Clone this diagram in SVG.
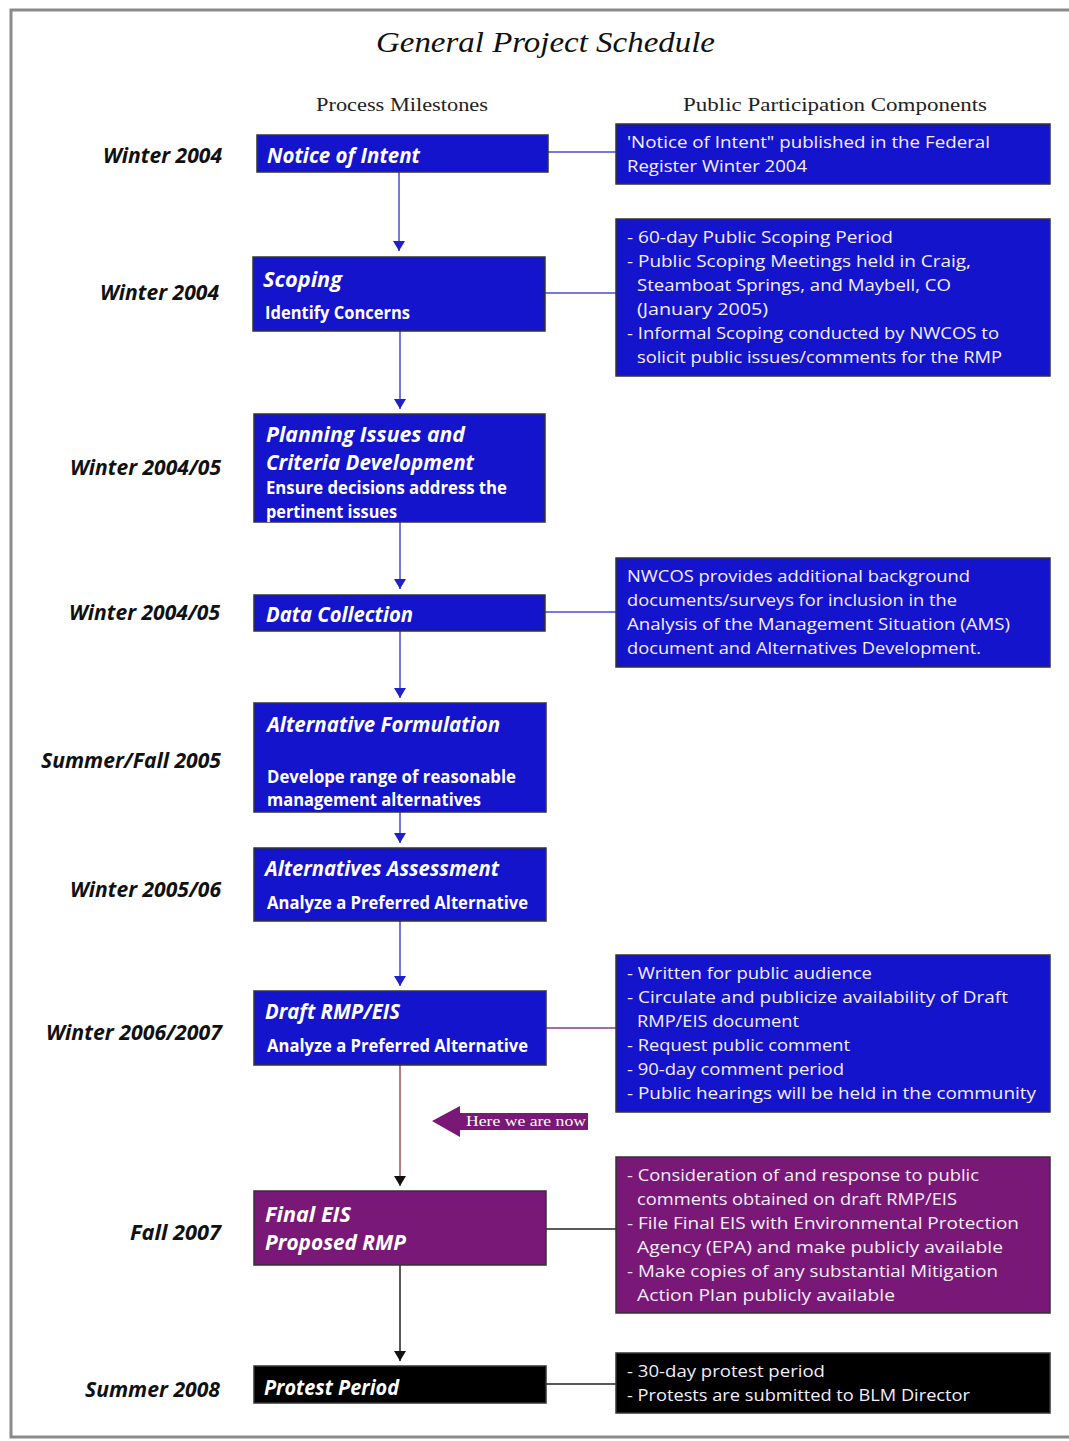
<svg xmlns="http://www.w3.org/2000/svg" width="1069" height="1441" viewBox="0 0 1069 1441">
<style>
.title{font-family:"Liberation Serif",serif;font-style:italic;font-size:30px;fill:#111}
.hdr{font-family:"Liberation Serif",serif;font-size:18px;fill:#222}
.date{font-family:"Open Sans","DejaVu Sans",sans-serif;font-style:italic;font-weight:bold;font-size:21px;fill:#111}
.bt{font-family:"Open Sans","DejaVu Sans",sans-serif;font-style:italic;font-weight:bold;font-size:22px;fill:#fff}
.bs{font-family:"Open Sans","DejaVu Sans",sans-serif;font-weight:bold;font-size:17px;fill:#fff}
.rt{font-family:"Open Sans","DejaVu Sans",sans-serif;font-size:17px;fill:#f4eefc}
.blue{fill:#1414cc;stroke:#333;stroke-width:1.5}
.purple{fill:#7a1878;stroke:#333;stroke-width:1.5}
.black{fill:#000;stroke:#333;stroke-width:1.5}
.cb{stroke:#4a4ad0;stroke-width:1.5;fill:none}
.cp{stroke:#8a3a8a;stroke-width:1.5;fill:none}
.ck{stroke:#222;stroke-width:1.5;fill:none}
.cr{stroke:#a05050;stroke-width:1.5;fill:none}
</style>
<defs>
<marker id="ab" viewBox="0 0 10 12" refX="10" refY="6" markerWidth="10" markerHeight="12" markerUnits="userSpaceOnUse" orient="auto">
<path d="M0,0 L10,6 L0,12 Z" fill="#2020c8"/>
</marker>
<marker id="ak" viewBox="0 0 10 12" refX="10" refY="6" markerWidth="10" markerHeight="12" markerUnits="userSpaceOnUse" orient="auto">
<path d="M0,0 L10,6 L0,12 Z" fill="#111"/>
</marker>
</defs>
<rect width="1069" height="1441" fill="#fff"/>
<path d="M1069,10 L11,10 L11,1437 L1069,1437" fill="none" stroke="#8a8a8a" stroke-width="3"/>
<text class="title" x="376" y="52" textLength="339" lengthAdjust="spacingAndGlyphs">General Project Schedule</text>
<text class="hdr" x="316" y="111" textLength="172" lengthAdjust="spacingAndGlyphs">Process Milestones</text>
<text class="hdr" x="683" y="111" textLength="304" lengthAdjust="spacingAndGlyphs">Public Participation Components</text>

<g id="dates">
<text class="date" x="103" y="163" textLength="119" lengthAdjust="spacingAndGlyphs">Winter 2004</text>
<text class="date" x="100" y="300" textLength="119" lengthAdjust="spacingAndGlyphs">Winter 2004</text>
<text class="date" x="70" y="475" textLength="151" lengthAdjust="spacingAndGlyphs">Winter 2004/05</text>
<text class="date" x="69" y="620" textLength="151" lengthAdjust="spacingAndGlyphs">Winter 2004/05</text>
<text class="date" x="41" y="768" textLength="180" lengthAdjust="spacingAndGlyphs">Summer/Fall 2005</text>
<text class="date" x="70" y="897" textLength="151" lengthAdjust="spacingAndGlyphs">Winter 2005/06</text>
<text class="date" x="46" y="1040" textLength="176" lengthAdjust="spacingAndGlyphs">Winter 2006/2007</text>
<text class="date" x="130" y="1240" textLength="91" lengthAdjust="spacingAndGlyphs">Fall 2007</text>
<text class="date" x="85" y="1397" textLength="135" lengthAdjust="spacingAndGlyphs">Summer 2008</text>
</g>

<g id="connectors">
<line class="cb" x1="399" y1="172" x2="399" y2="251" marker-end="url(#ab)"/>
<line class="cb" x1="400" y1="331" x2="400" y2="409" marker-end="url(#ab)"/>
<line class="cb" x1="400" y1="522" x2="400" y2="589" marker-end="url(#ab)"/>
<line class="cb" x1="400" y1="631" x2="400" y2="698" marker-end="url(#ab)"/>
<line class="cb" x1="400" y1="812" x2="400" y2="843" marker-end="url(#ab)"/>
<line class="cb" x1="400" y1="921" x2="400" y2="986" marker-end="url(#ab)"/>
<line class="cr" x1="400" y1="1065" x2="400" y2="1186" marker-end="url(#ak)"/>
<line class="ck" x1="400" y1="1265" x2="400" y2="1361" marker-end="url(#ak)"/>
<line class="cb" x1="548" y1="152" x2="616" y2="152"/>
<line class="cb" x1="545" y1="293" x2="616" y2="293"/>
<line class="cb" x1="545" y1="612" x2="616" y2="612"/>
<line class="cp" x1="546" y1="1028" x2="616" y2="1028"/>
<line class="ck" x1="546" y1="1229" x2="616" y2="1229"/>
<line class="ck" x1="546" y1="1384" x2="616" y2="1384"/>
</g>

<g id="n-notice">
<rect class="blue" x="257" y="135" width="291" height="37"/>
<text class="bt" x="267" y="163" textLength="153" lengthAdjust="spacingAndGlyphs">Notice of Intent</text>
</g>
<g id="n-scoping">
<rect class="blue" x="253" y="257" width="292" height="74"/>
<text class="bt" x="263" y="287" textLength="79" lengthAdjust="spacingAndGlyphs">Scoping</text>
<text class="bs" x="265" y="319" textLength="145" lengthAdjust="spacingAndGlyphs">Identify Concerns</text>
</g>
<g id="n-planning">
<rect class="blue" x="254" y="414" width="291" height="108"/>
<text class="bt" x="266" y="442" textLength="199" lengthAdjust="spacingAndGlyphs">Planning Issues and</text>
<text class="bt" x="266" y="470" textLength="208" lengthAdjust="spacingAndGlyphs">Criteria Development</text>
<text class="bs" x="266" y="494" textLength="241" lengthAdjust="spacingAndGlyphs">Ensure decisions address the</text>
<text class="bs" x="266" y="518" textLength="131" lengthAdjust="spacingAndGlyphs">pertinent issues</text>
</g>
<g id="n-data">
<rect class="blue" x="254" y="595" width="291" height="36"/>
<text class="bt" x="266" y="622" textLength="147" lengthAdjust="spacingAndGlyphs">Data Collection</text>
</g>
<g id="n-altform">
<rect class="blue" x="254" y="703" width="292" height="109"/>
<text class="bt" x="267" y="732" textLength="233" lengthAdjust="spacingAndGlyphs">Alternative Formulation</text>
<text class="bs" x="267" y="783" textLength="249" lengthAdjust="spacingAndGlyphs">Develope range of reasonable</text>
<text class="bs" x="267" y="806" textLength="214" lengthAdjust="spacingAndGlyphs">management alternatives</text>
</g>
<g id="n-altassess">
<rect class="blue" x="254" y="848" width="292" height="73"/>
<text class="bt" x="265" y="876" textLength="234" lengthAdjust="spacingAndGlyphs">Alternatives Assessment</text>
<text class="bs" x="267" y="909" textLength="261" lengthAdjust="spacingAndGlyphs">Analyze a Preferred Alternative</text>
</g>
<g id="n-draft">
<rect class="blue" x="254" y="991" width="292" height="74"/>
<text class="bt" x="265" y="1019" textLength="135" lengthAdjust="spacingAndGlyphs">Draft RMP/EIS</text>
<text class="bs" x="267" y="1052" textLength="261" lengthAdjust="spacingAndGlyphs">Analyze a Preferred Alternative</text>
</g>
<g id="n-final">
<rect class="purple" x="254" y="1191" width="292" height="74"/>
<text class="bt" x="265" y="1222" textLength="86" lengthAdjust="spacingAndGlyphs">Final EIS</text>
<text class="bt" x="265" y="1250" textLength="141" lengthAdjust="spacingAndGlyphs">Proposed RMP</text>
</g>
<g id="n-protest">
<rect class="black" x="254" y="1366" width="292" height="37"/>
<text class="bt" x="264" y="1395" textLength="135" lengthAdjust="spacingAndGlyphs">Protest Period</text>
</g>

<g id="r-notice">
<rect class="blue" x="616" y="124" width="434" height="60"/>
<text class="rt" x="627" y="148" textLength="363" lengthAdjust="spacingAndGlyphs">'Notice of Intent" published in the Federal</text>
<text class="rt" x="627" y="172" textLength="180" lengthAdjust="spacingAndGlyphs">Register Winter 2004</text>
</g>
<g id="r-scoping">
<rect class="blue" x="616" y="219" width="434" height="157"/>
<text class="rt" x="627" y="243" textLength="266" lengthAdjust="spacingAndGlyphs">- 60-day Public Scoping Period</text>
<text class="rt" x="627" y="267" textLength="344" lengthAdjust="spacingAndGlyphs">- Public Scoping Meetings held in Craig,</text>
<text class="rt" x="637" y="291" textLength="314" lengthAdjust="spacingAndGlyphs">Steamboat Springs, and Maybell, CO</text>
<text class="rt" x="637" y="315" textLength="131" lengthAdjust="spacingAndGlyphs">(January 2005)</text>
<text class="rt" x="627" y="339" textLength="372" lengthAdjust="spacingAndGlyphs">- Informal Scoping conducted by NWCOS to</text>
<text class="rt" x="637" y="363" textLength="365" lengthAdjust="spacingAndGlyphs">solicit public issues/comments for the RMP</text>
</g>
<g id="r-data">
<rect class="blue" x="616" y="558" width="434" height="109"/>
<text class="rt" x="627" y="582" textLength="343" lengthAdjust="spacingAndGlyphs">NWCOS provides additional background</text>
<text class="rt" x="627" y="606" textLength="330" lengthAdjust="spacingAndGlyphs">documents/surveys for inclusion in the</text>
<text class="rt" x="627" y="630" textLength="383" lengthAdjust="spacingAndGlyphs">Analysis of the Management Situation (AMS)</text>
<text class="rt" x="627" y="654" textLength="354" lengthAdjust="spacingAndGlyphs">document and Alternatives Development.</text>
</g>
<g id="r-draft">
<rect class="blue" x="616" y="955" width="434" height="157"/>
<text class="rt" x="627" y="979" textLength="245" lengthAdjust="spacingAndGlyphs">- Written for public audience</text>
<text class="rt" x="627" y="1003" textLength="381" lengthAdjust="spacingAndGlyphs">- Circulate and publicize availability of Draft</text>
<text class="rt" x="637" y="1027" textLength="162" lengthAdjust="spacingAndGlyphs">RMP/EIS document</text>
<text class="rt" x="627" y="1051" textLength="223" lengthAdjust="spacingAndGlyphs">- Request public comment</text>
<text class="rt" x="627" y="1075" textLength="217" lengthAdjust="spacingAndGlyphs">- 90-day comment period</text>
<text class="rt" x="627" y="1099" textLength="409" lengthAdjust="spacingAndGlyphs">- Public hearings will be held in the community</text>
</g>
<g id="r-final">
<rect class="purple" x="616" y="1157" width="434" height="156"/>
<text class="rt" x="627" y="1181" textLength="352" lengthAdjust="spacingAndGlyphs">- Consideration of and response to public</text>
<text class="rt" x="637" y="1205" textLength="320" lengthAdjust="spacingAndGlyphs">comments obtained on draft RMP/EIS</text>
<text class="rt" x="627" y="1229" textLength="392" lengthAdjust="spacingAndGlyphs">- File Final EIS with Environmental Protection</text>
<text class="rt" x="637" y="1253" textLength="366" lengthAdjust="spacingAndGlyphs">Agency (EPA) and make publicly available</text>
<text class="rt" x="627" y="1277" textLength="371" lengthAdjust="spacingAndGlyphs">- Make copies of any substantial Mitigation</text>
<text class="rt" x="637" y="1301" textLength="258" lengthAdjust="spacingAndGlyphs">Action Plan publicly available</text>
</g>
<g id="r-protest">
<rect class="black" x="616" y="1353" width="434" height="60"/>
<text class="rt" x="627" y="1377" textLength="198" lengthAdjust="spacingAndGlyphs">- 30-day protest period</text>
<text class="rt" x="627" y="1401" textLength="343" lengthAdjust="spacingAndGlyphs">- Protests are submitted to BLM Director</text>
</g>

<g id="here-arrow">
<path d="M432,1121 L460,1106 L460,1113 L588,1113 L588,1130 L460,1130 L460,1137 Z" fill="#7a1878"/>
<text x="466" y="1126" font-family="Liberation Serif, serif" font-size="14" fill="#fff" textLength="120" lengthAdjust="spacingAndGlyphs">Here we are now</text>
</g>
</svg>
